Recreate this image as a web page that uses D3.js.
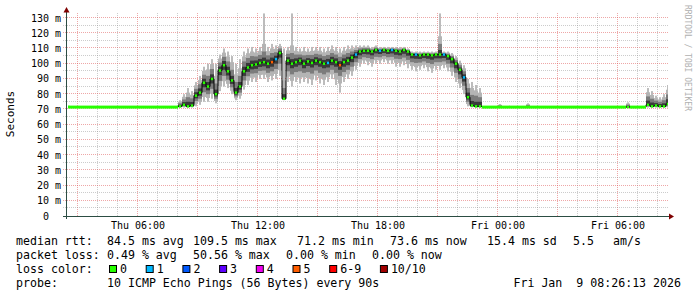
<!DOCTYPE html>
<html>
<head>
<meta charset="utf-8">
<script src="https://cdn.jsdelivr.net/npm/d3@7"></script>
<style>
  body { margin: 0; background: #fff; }
  text { font-family: "DejaVu Sans Mono", monospace; white-space: pre; }
</style>
</head>
<body>
<div class="canvas"></div>
<script>
// samples every 12 minutes, starting Thu 8 Jan 2026 02:24
const sampleStart = new Date(2026, 0, 8, 2, 24);
const sampleMinutes = 12;

// median rtt (ms)
const median = [
  71.5, 71.5, 71.5, 71.5, 71.5, 71.5, 71.5, 71.5, 71.5, 71.5,
  71.5, 71.5, 71.5, 71.5, 71.5, 71.5, 71.5, 71.5, 71.5, 71.5,
  71.5, 71.5, 71.5, 71.5, 71.5, 71.5, 71.5, 71.5, 72, 73,
  72, 72.5, 79, 81, 87.5, 85, 90, 80, 95.5, 99,
  95, 89, 81, 85, 95, 97.5, 99, 99.5, 100.5, 101,
  100, 101, 103, 107, 77, 102, 100, 101, 102, 100,
  101.5, 100.5, 102, 101, 100, 100.5, 102, 101, 99, 101,
  102, 104, 106, 108, 108.5, 108.5, 108, 109, 108.5, 109,
  108.5, 109, 108.5, 108, 109, 108, 106, 106, 105.5, 106,
  106, 105.5, 106, 106, 106, 105, 103, 100, 96, 91,
  78, 72.5, 72, 72, 71.5, 71.5, 71.5, 71.5, 71.5, 71.5,
  71.5, 71.5, 71.5, 71.5, 71.5, 71.5, 71.5, 71.5, 71.5, 71.5,
  71.5, 71.5, 71.5, 71.5, 71.5, 71.5, 71.5, 71.5, 71.5, 71.5,
  71.5, 71.5, 71.5, 71.5, 71.5, 71.5, 71.5, 71.5, 71.5, 71.5,
  71.5, 71.5, 71.5, 71.5, 71.5, 73, 72, 72.5, 72, 72,
  73.6
];

// fastest ping per sample (ms)
const minRtt = [
  71.2, 71.2, 71.2, 71.2, 71.2, 71.2, 71.2, 71.2, 71.2, 71.2,
  71.2, 71.2, 71.2, 71.2, 71.2, 71.2, 71.2, 71.2, 71.2, 71.2,
  71.2, 71.2, 71.2, 71.2, 71.2, 71.2, 71.2, 71.2, 71.2, 71.2,
  71.2, 71.2, 72, 73, 75, 75, 77, 74, 82, 85,
  84, 80, 76, 77, 83, 86, 88, 88, 90, 90,
  88, 89, 90, 92, 76, 88, 85, 88, 87, 88,
  87, 86, 89, 87, 86, 88, 90, 86, 81, 88,
  90, 92, 96, 98, 100, 99, 98, 100, 100, 101,
  100, 100, 98, 98, 99, 97, 96, 95, 96, 97,
  95, 94, 96, 96, 97, 95, 92, 88, 84, 80,
  72, 71.3, 71.2, 71.2, 71.2, 71.2, 71.2, 71.2, 71.2, 71.2,
  71.2, 71.2, 71.2, 71.2, 71.2, 71.2, 71.2, 71.2, 71.2, 71.2,
  71.2, 71.2, 71.2, 71.2, 71.2, 71.2, 71.2, 71.2, 71.2, 71.2,
  71.2, 71.2, 71.2, 71.2, 71.2, 71.2, 71.2, 71.2, 71.2, 71.2,
  71.2, 71.2, 71.2, 71.2, 71.2, 71.2, 71.2, 71.2, 71.2, 71.2,
  71.2
];

// slowest ping per sample (ms)
const maxRtt = [
  71.8, 71.8, 71.8, 71.8, 71.8, 71.8, 71.8, 71.8, 71.8, 71.8,
  71.8, 71.8, 71.8, 71.8, 71.8, 71.8, 71.8, 71.8, 71.8, 71.8,
  71.8, 71.8, 71.8, 71.8, 71.8, 71.8, 71.8, 71.8, 76, 80,
  84, 82, 88, 92, 98, 100, 103, 100, 106, 110,
  108, 105, 100, 103, 108, 110, 111, 110, 111, 133,
  111, 113, 112, 113, 110, 111, 133, 111, 110, 111,
  110, 111, 111, 111, 110, 111, 112, 111, 110, 111,
  112, 112, 112, 112, 112, 112, 111, 112, 111, 111,
  111, 111, 111, 111, 111, 110, 108, 108, 108, 108,
  108, 108, 108, 133, 108, 108, 107, 105, 102, 99,
  90, 88, 86, 84, 71.8, 71.8, 71.8, 71.8, 73.5, 71.8,
  71.8, 71.8, 71.8, 71.8, 71.8, 74, 71.8, 71.8, 71.8, 71.8,
  71.8, 71.8, 71.8, 71.8, 71.8, 71.8, 71.8, 71.8, 71.8, 71.8,
  71.8, 71.8, 71.8, 71.8, 71.8, 71.8, 71.8, 71.8, 71.8, 71.8,
  74.6, 71.8, 71.8, 71.8, 71.8, 84, 82, 79, 78, 80,
  86
];

// lost pings (of 10) per sample
const lost = [
  0, 0, 0, 0, 0, 0, 0, 0, 0, 0,
  0, 0, 0, 0, 0, 0, 0, 0, 0, 0,
  0, 0, 0, 0, 0, 0, 0, 0, 0, 0,
  0, 0, 0, 0, 0, 0, 0, 0, 0, 0,
  0, 0, 0, 0, 0, 0, 0, 0, 0, 0,
  0, 5, 1, 0, 0, 0, 0, 0, 0, 0,
  0, 0, 0, 0, 0, 1, 0, 0, 5, 0,
  0, 0, 1, 0, 0, 0, 0, 0, 1, 0,
  0, 1, 0, 0, 0, 0, 0, 1, 0, 0,
  0, 0, 0, 0, 1, 0, 0, 0, 0, 1,
  0, 0, 0, 0, 0, 0, 0, 0, 0, 0,
  0, 0, 0, 0, 0, 0, 0, 0, 0, 0,
  0, 0, 0, 0, 0, 0, 0, 0, 0, 0,
  0, 0, 0, 0, 0, 0, 0, 0, 0, 0,
  0, 0, 0, 0, 0, 0, 0, 0, 0, 0,
  0
];

const yTicks = [0, 10, 20, 30, 40, 50, 60, 70, 80, 90, 100, 110, 120, 130];
const lossLabels = ['0', '1', '2', '3', '4', '5', '6-9', '10/10'];
const lossColours = ['#26ff00', '#00b8ff', '#0059ff', '#5e00ff', '#f000f0', '#ff5e00', '#ff0000', '#a10000'];

const rttStats = ['median rtt:', '84.5 ms avg', '109.5 ms max', '71.2 ms min', '73.6 ms now', '15.4 ms sd', '5.5', 'am/s'];
const lossStats = ['packet loss:', '0.49 % avg', '50.56 % max', '0.00 % min', '0.00 % now'];
const probeText = ['probe:', '10 ICMP Echo Pings (56 Bytes) every 90s'];
const stamp = 'Fri Jan  9 08:26:13 2026';

// layout
const dims = { width: 697, height: 297 };
const plot = { left: 67, right: 668, top: 13, bottom: 216 };
const rttCols = [16, 107, 193, 297, 390, 487, 573, 613];
const lossCols = [16, 107, 193, 286, 372];
const probeCols = [16, 107];
const legendFont = '11.6px';

const svg = d3.select('.canvas')
    .append('svg')
    .attr('width', dims.width)
    .attr('height', dims.height)
    .style('display', 'block');

svg.append('rect').attr('width', dims.width).attr('height', dims.height).attr('fill', '#fff');

const x = d3.scaleTime()
    .domain([new Date(2026, 0, 8, 2, 27), new Date(2026, 0, 9, 8, 30)])
    .range([plot.left, plot.right]);

const y = d3.scaleLinear()
    .domain([0, 130])
    .range([plot.bottom, 18]);

const px = v => Math.round(v) - 0.5;

// grid
const grid = svg.append('g').attr('shape-rendering', 'crispEdges');

const hourLines = d3.timeHour.every(1).range(...x.domain());
grid.selectAll('.vgrid')
    .data(hourLines)
    .enter().append('line')
    .attr('x1', d => px(x(d))).attr('x2', d => px(x(d)))
    .attr('y1', plot.top).attr('y2', plot.bottom)
    .attr('stroke', d => d.getHours() % 3 === 0 ? '#de5050' : '#8f8f8f')
    .attr('stroke-opacity', d => d.getHours() % 3 === 0 ? 0.5 : 0.45)
    .attr('stroke-dasharray', '1,1');

grid.selectAll('.hgrid')
    .data(d3.range(5, 131, 5))
    .enter().append('line')
    .attr('x1', plot.left - 4).attr('x2', plot.right)
    .attr('y1', d => px(y(d))).attr('y2', d => px(y(d)))
    .attr('stroke', d => d % 10 === 0 ? '#de5050' : '#8f8f8f')
    .attr('stroke-opacity', d => d % 10 === 0 ? 0.5 : 0.45)
    .attr('stroke-dasharray', '1,1');

// samples
const samples = median.map((m, i) => ({
    t0: d3.timeMinute.offset(sampleStart, i * sampleMinutes),
    t1: d3.timeMinute.offset(sampleStart, (i + 1) * sampleMinutes),
    m, lo: minRtt[i], hi: maxRtt[i], lost: lost[i]
}));
const noisy = samples.filter(d => d.hi - d.lo > 1);

svg.append('clipPath').attr('id', 'plotclip')
    .append('rect')
    .attr('x', plot.left + 1).attr('y', plot.top)
    .attr('width', plot.right - plot.left - 1).attr('height', plot.bottom - plot.top);

const graph = svg.append('g').attr('clip-path', 'url(#plotclip)');

// smoke: full spread as thin strands, shades darken towards the median
const band = (d, f, cap) => [
    d.m - Math.min((d.m - d.lo) * f, cap),
    d.m + Math.min((d.hi - d.m) * f, cap)
];

const shades = [
    { f: 1, cap: 99, colour: '#bcbcbc', inset: 2 },
    { f: 0.75, cap: 12, colour: '#b4b4b4', inset: 0 },
    { f: 0.5, cap: 7, colour: '#7c7c7c', inset: 0 },
    { f: 0.25, cap: 3, colour: '#3a3a3a', inset: 0 }
];

shades.forEach(s => {
    graph.append('g').selectAll('rect')
        .data(noisy)
        .enter().append('rect')
        .attr('x', d => x(d.t0) + s.inset / 2)
        .attr('width', d => x(d.t1) - x(d.t0) - s.inset)
        .attr('y', d => y(band(d, s.f, s.cap)[1]))
        .attr('height', d => y(band(d, s.f, s.cap)[0]) - y(band(d, s.f, s.cap)[1]))
        .attr('fill', s.colour);
});

// median: black steps, then loss-coloured pieces
const stepLine = d3.line()
    .x(d => x(d.t))
    .y(d => y(d.m))
    .curve(d3.curveStepAfter);

const stepPts = samples.map(d => ({ t: d.t0, m: d.m }));
stepPts.push({ t: samples[samples.length - 1].t1, m: samples[samples.length - 1].m });

graph.append('path')
    .attr('d', stepLine(stepPts))
    .attr('fill', 'none')
    .attr('stroke', '#000')
    .attr('stroke-width', 1);

const lossClass = n => n <= 5 ? n : (n < 10 ? 6 : 7);
const isNoisy = d => d.hi - d.lo > 3;

graph.selectAll('.med')
    .data(samples)
    .enter().append('line')
    .attr('x1', d => x(d.t0) + (isNoisy(d) ? 0.8 : 0))
    .attr('x2', d => x(d.t1) - (isNoisy(d) ? 0.8 : 0))
    .attr('y1', d => y(d.m)).attr('y2', d => y(d.m))
    .attr('stroke', d => lossColours[lossClass(d.lost)])
    .attr('stroke-width', d => isNoisy(d) ? 2.5 : 3);

// axes
const axisCol = '#2c4d43';
svg.append('line')
    .attr('x1', plot.left - 0.5).attr('x2', plot.left - 0.5)
    .attr('y1', 10).attr('y2', plot.bottom + 3)
    .attr('stroke', axisCol).attr('shape-rendering', 'crispEdges');
svg.append('line')
    .attr('x1', plot.left - 4).attr('x2', plot.right + 2)
    .attr('y1', plot.bottom + 0.5).attr('y2', plot.bottom + 0.5)
    .attr('stroke', axisCol).attr('shape-rendering', 'crispEdges');

svg.append('path')
    .attr('d', `M${plot.left - 3.5},12.5 L${plot.left + 2.5},12.5 L${plot.left - 0.5},7 Z`)
    .attr('fill', '#7f0000');
svg.append('path')
    .attr('d', `M${plot.right + 1},${plot.bottom - 2.5} L${plot.right + 1},${plot.bottom + 3.5} L${plot.right + 6},${plot.bottom + 0.5} Z`)
    .attr('fill', '#7f0000');

// y labels
svg.selectAll('.ylab')
    .data(yTicks)
    .enter().append('text')
    .attr('x', 61)
    .attr('y', d => y(d) + 3.5)
    .attr('text-anchor', 'end')
    .attr('font-size', '10px')
    .attr('fill', '#000')
    .text(d => d === 0 ? '0\u00a0\u00a0' : `${d} m`);

// x labels
const fmt = d3.timeFormat('%a %H:%M');
svg.selectAll('.xlab')
    .data(d3.timeHour.every(6).range(...x.domain()))
    .enter().append('text')
    .attr('x', d => x(d))
    .attr('y', 229)
    .attr('text-anchor', 'middle')
    .attr('font-size', '10px')
    .attr('fill', '#000')
    .text(d => fmt(d));

svg.append('text')
    .attr('transform', 'translate(14,114) rotate(-90)')
    .attr('text-anchor', 'middle')
    .attr('font-size', '11px')
    .text('Seconds');

svg.append('text')
    .attr('transform', 'translate(685,5) rotate(90)')
    .attr('font-size', '8px')
    .attr('fill', '#b0b0b0')
    .text('RRDTOOL / TOBI OETIKER');

// legend lines
const textRow = (items, cols, baseline) => {
    svg.append('g').selectAll('text')
        .data(items)
        .enter().append('text')
        .attr('x', (d, i) => cols[i])
        .attr('y', baseline)
        .attr('font-size', legendFont)
        .attr('fill', '#000')
        .text(d => d);
};

textRow(rttStats, rttCols, 245);
textRow(lossStats, lossCols, 259);

svg.append('text')
    .attr('x', 16).attr('y', 273)
    .attr('font-size', legendFont)
    .text('loss color:');

let lx = 109;
lossLabels.forEach((lab, i) => {
    svg.append('rect')
        .attr('x', lx + 0.5).attr('y', 265.5)
        .attr('width', 7).attr('height', 7)
        .attr('fill', lossColours[i])
        .attr('stroke', '#000').attr('stroke-width', 1);
    svg.append('text')
        .attr('x', lx + 11).attr('y', 273)
        .attr('font-size', legendFont)
        .text(lab);
    lx += 11 + lab.length * 7 + 18.7;
});

textRow(probeText, probeCols, 287);

svg.append('text')
    .attr('x', 681).attr('y', 287)
    .attr('text-anchor', 'end')
    .attr('font-size', legendFont)
    .text(stamp);
</script>
</body>
</html>
